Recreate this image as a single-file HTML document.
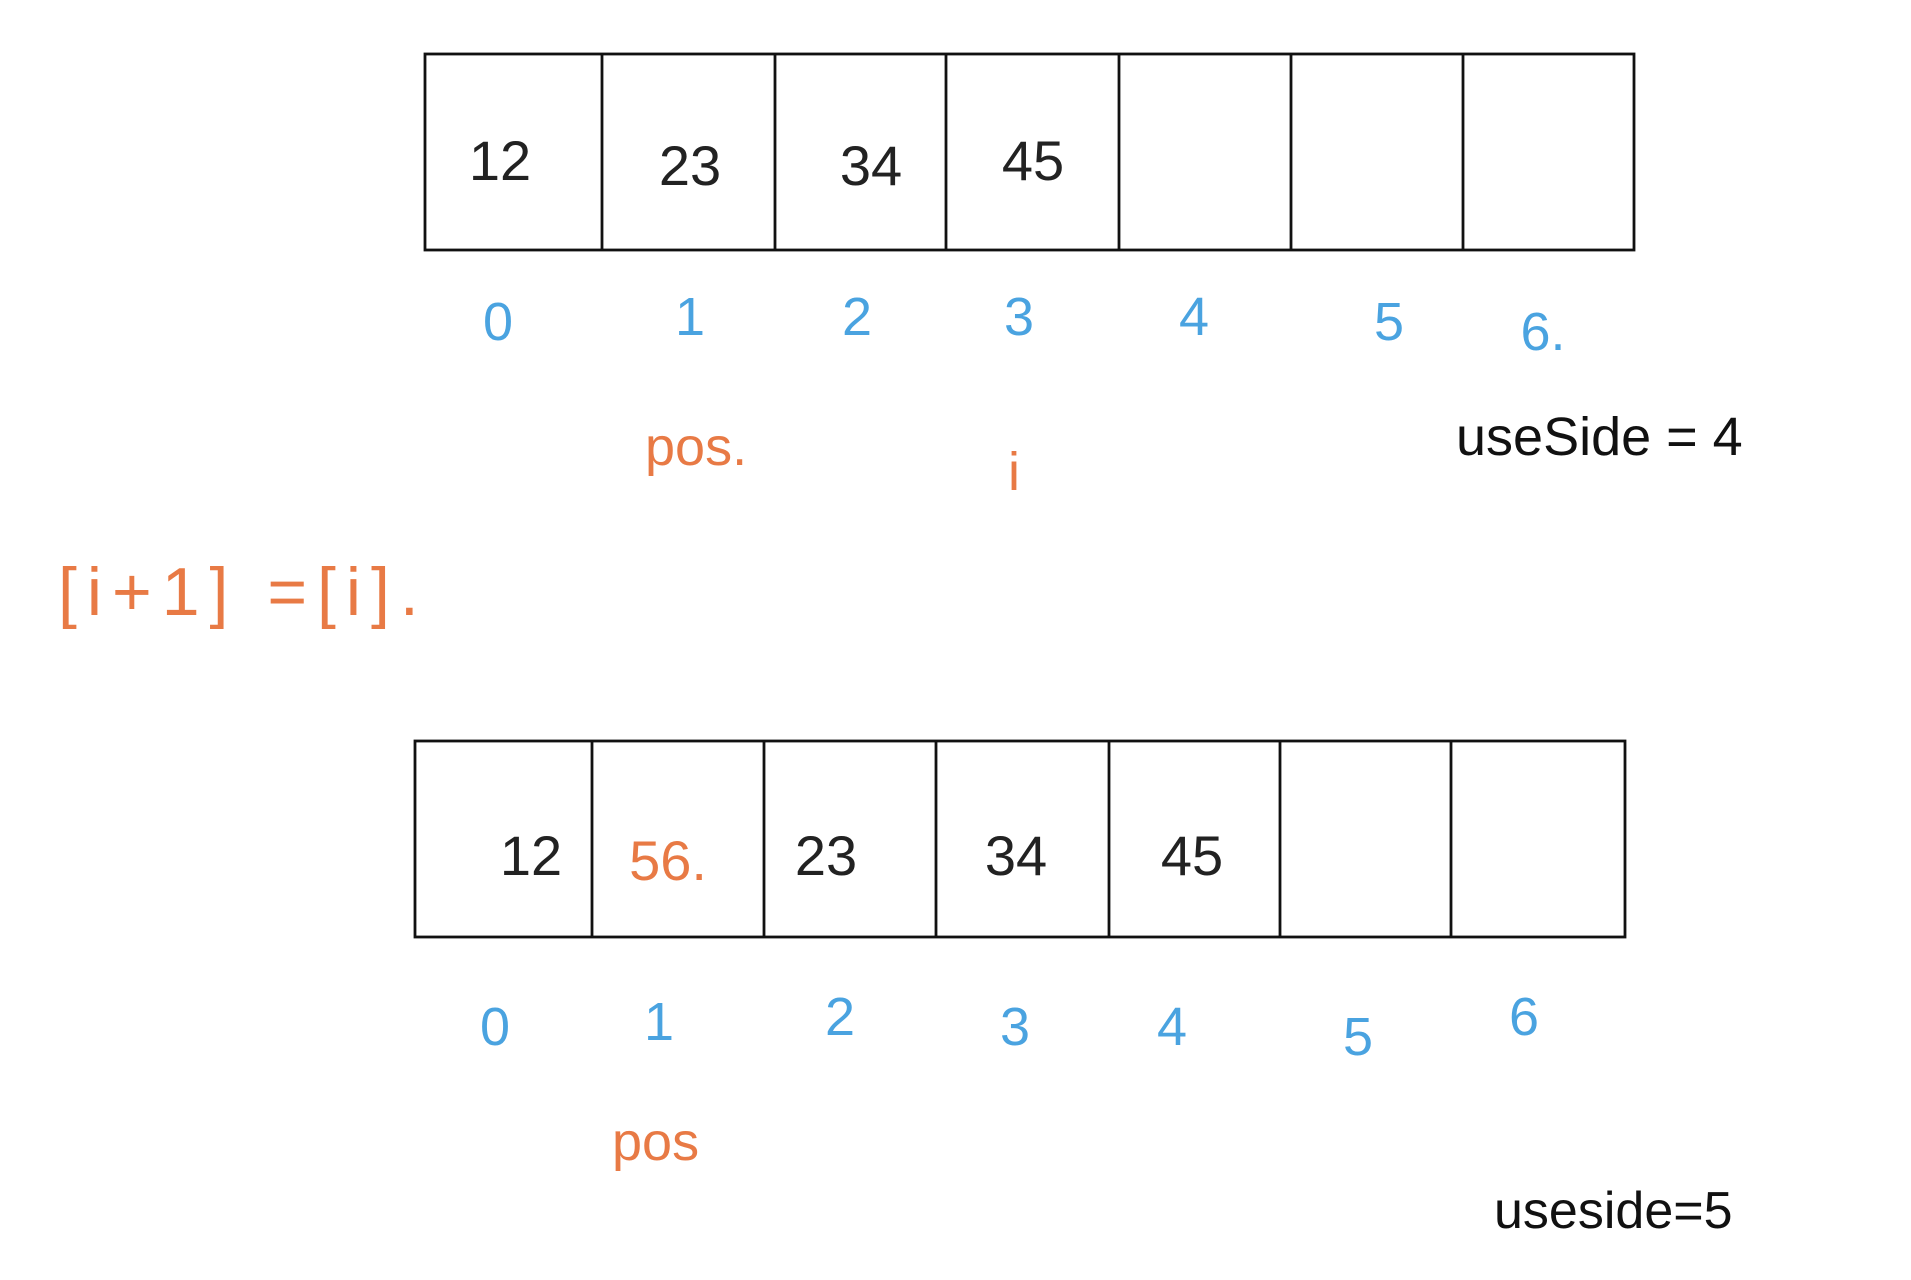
<!DOCTYPE html>
<html><head><meta charset="utf-8"><style>
html,body{margin:0;padding:0;background:#fff;}
svg{display:block;}
text{font-family:"Liberation Sans",sans-serif;}
</style></head><body>
<svg width="1911" height="1280" viewBox="0 0 1911 1280" xmlns="http://www.w3.org/2000/svg">
<g fill="none" stroke="#111" stroke-width="2.8">
<rect x="425" y="54" width="1209" height="196"/>
<line x1="602" y1="54" x2="602" y2="250"/><line x1="775" y1="54" x2="775" y2="250"/>
<line x1="946" y1="54" x2="946" y2="250"/><line x1="1119" y1="54" x2="1119" y2="250"/>
<line x1="1291" y1="54" x2="1291" y2="250"/><line x1="1463" y1="54" x2="1463" y2="250"/>
<rect x="415" y="741" width="1210" height="196"/>
<line x1="592" y1="741" x2="592" y2="937"/><line x1="764" y1="741" x2="764" y2="937"/>
<line x1="936" y1="741" x2="936" y2="937"/><line x1="1109" y1="741" x2="1109" y2="937"/>
<line x1="1280" y1="741" x2="1280" y2="937"/><line x1="1451" y1="741" x2="1451" y2="937"/>
</g>
<g fill="#222" font-size="56" text-anchor="middle">
<text x="500" y="180">12</text><text x="690" y="185">23</text><text x="871" y="185">34</text><text x="1033" y="180">45</text>
<text x="531" y="875">12</text><text x="826" y="875">23</text><text x="1016" y="875">34</text><text x="1192" y="875">45</text>
</g>
<text x="668" y="880" fill="#e87a45" font-size="56" text-anchor="middle">56.</text>
<g fill="#4aa3e0" font-size="54" text-anchor="middle">
<text x="498" y="340">0</text><text x="690" y="335">1</text><text x="857" y="335">2</text><text x="1019" y="335">3</text>
<text x="1194" y="335">4</text><text x="1389" y="340">5</text><text x="1543" y="350">6.</text>
<text x="495" y="1045">0</text><text x="659" y="1040">1</text><text x="840" y="1035">2</text><text x="1015" y="1045">3</text>
<text x="1172" y="1045">4</text><text x="1358" y="1055">5</text><text x="1524" y="1035">6</text>
</g>
<g fill="#e87a45" font-size="54">
<text x="645" y="465">pos.</text>
<text x="1008" y="490">i</text>
<text x="612" y="1160">pos</text>
<text x="58" y="615" font-size="68" letter-spacing="10">[i+1] =[i].</text>
</g>
<g fill="#111" font-size="54">
<text x="1456" y="455">useSide = 4</text>
<text x="1494" y="1228" font-size="52">useside=5</text>
</g>
</svg>
</body></html>
